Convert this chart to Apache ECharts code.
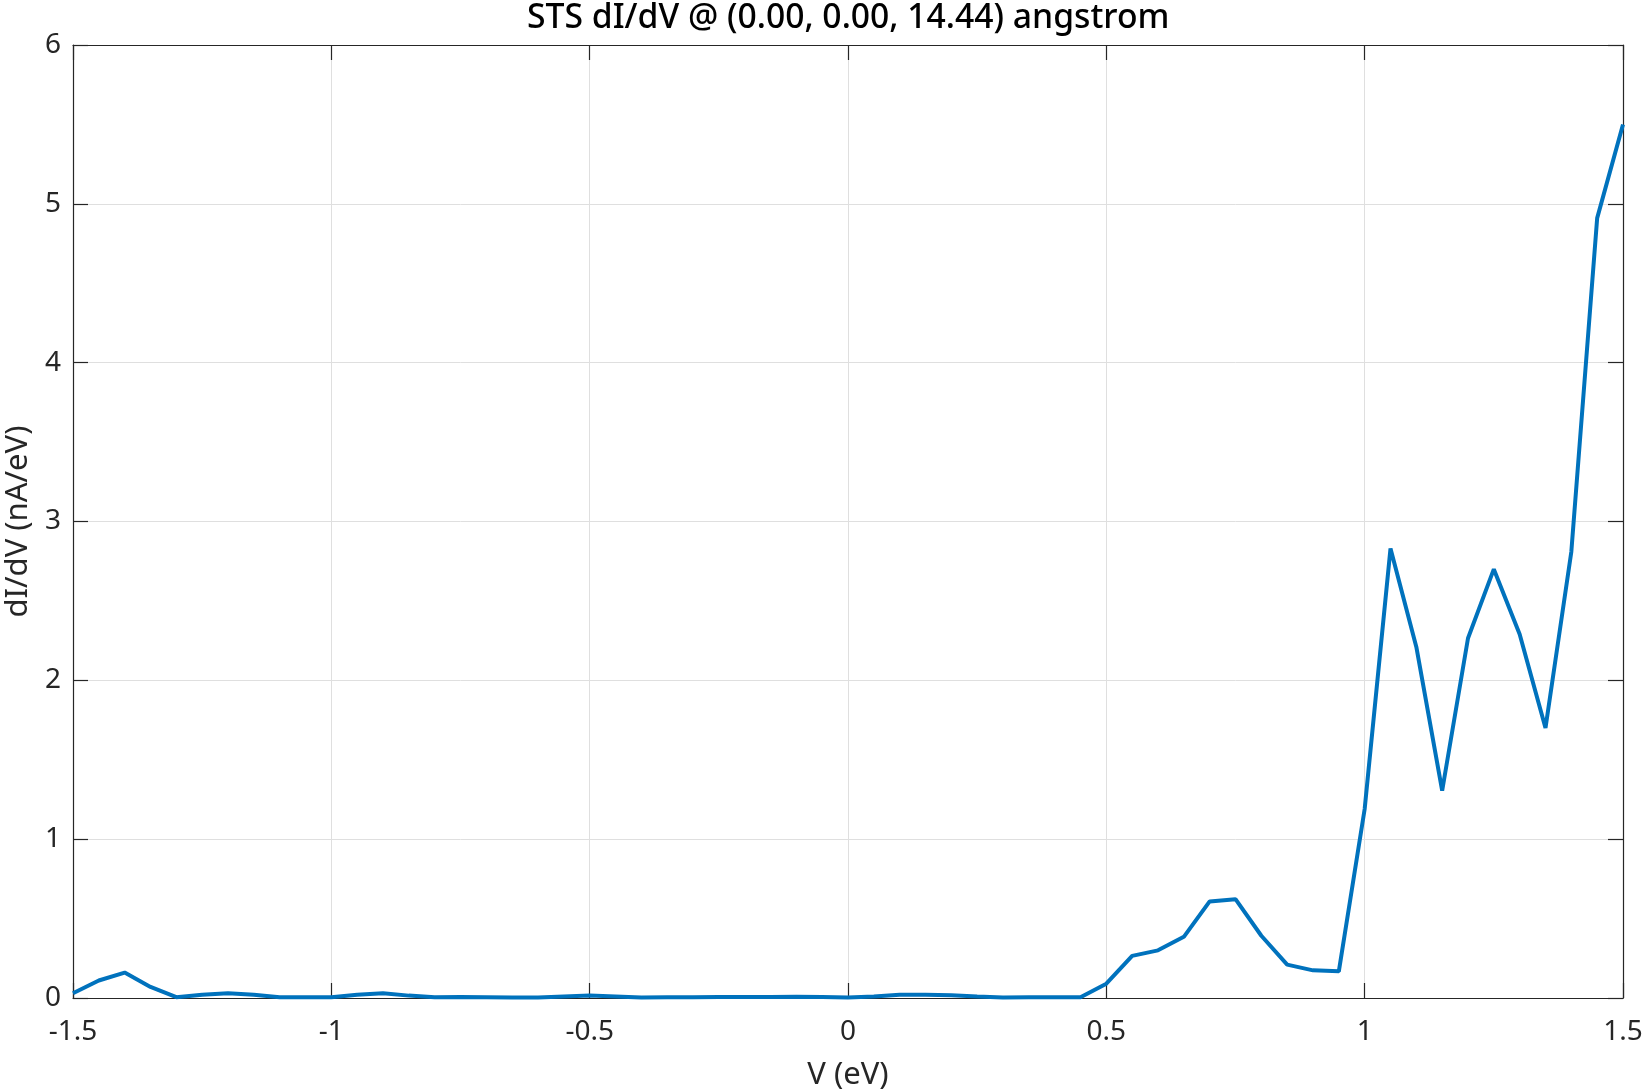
<!DOCTYPE html>
<html>
<head>
<meta charset="utf-8">
<script src="https://cdn.jsdelivr.net/npm/echarts@6/dist/echarts.min.js"></script>
<style>
  html, body { margin: 0; padding: 0; background: #fff; }
  #chart { width: 1643px; height: 1091px; }
</style>
</head>
<body>
<div id="chart"></div>
<script>
// bias voltages (eV), step 0.05
const bias = [
  -1.5, -1.45, -1.4, -1.35, -1.3, -1.25, -1.2, -1.15, -1.1, -1.05,
  -1.0, -0.95, -0.9, -0.85, -0.8, -0.75, -0.7, -0.65, -0.6, -0.55,
  -0.5, -0.45, -0.4, -0.35, -0.3, -0.25, -0.2, -0.15, -0.1, -0.05,
  0.0, 0.05, 0.1, 0.15, 0.2, 0.25, 0.3, 0.35, 0.4, 0.45,
  0.5, 0.55, 0.6, 0.65, 0.7, 0.75, 0.8, 0.85, 0.9, 0.95,
  1.0, 1.05, 1.1, 1.15, 1.2, 1.25, 1.3, 1.35, 1.4, 1.45, 1.5
]
// dI/dV (nA/eV)
const didv = [
  0.03, 0.11, 0.16, 0.07, 0.005, 0.02, 0.03, 0.02, 0.005, 0.005,
  0.005, 0.02, 0.03, 0.015, 0.005, 0.007, 0.005, 0.003, 0.003, 0.01,
  0.015, 0.01, 0.003, 0.004, 0.005, 0.006, 0.006, 0.007, 0.008, 0.006,
  0.003, 0.01, 0.02, 0.02, 0.018, 0.01, 0.003, 0.005, 0.005, 0.005,
  0.09, 0.265, 0.30, 0.385, 0.608, 0.622, 0.392, 0.21, 0.174, 0.168,
  1.19, 2.83, 2.21, 1.305, 2.265, 2.70, 2.29, 1.70, 2.81, 4.91, 5.50
]

const textColor = '#262626'
const font = 'Noto Sans'

const chart = echarts.init(document.getElementById('chart'))

const tickCommon = {
  show: true,
  inside: true,
  length: 15,
  lineStyle: { color: textColor, width: 1.2 },
}

chart.setOption({
  animation: false,
  title: {
    text: 'STS dI/dV @ (0.00, 0.00, 14.44) angstrom',
    left: 527, // centred over the plot area, not the page
    top: 1,
    padding: 0,
    textStyle: { fontFamily: font, fontSize: 33.7, fontWeight: 500, color: '#000' },
  },
  grid: { left: 73, right: 20, top: 45, bottom: 93, containLabel: false, outerBoundsMode: 'none' },
  xAxis: [
    {
      type: 'value',
      position: 'bottom',
      min: -1.5,
      max: 1.5,
      interval: 0.5,
      name: 'V (eV)',
      nameLocation: 'middle',
      nameGap: 62,
      nameTextStyle: { fontFamily: font, fontSize: 31, color: textColor },
      axisLine: { show: true, onZero: false, lineStyle: { color: textColor, width: 1.2 } },
      axisTick: tickCommon,
      axisLabel: { fontFamily: font, fontSize: 28, color: textColor, margin: 20, showMinLabel: true, showMaxLabel: true },
      splitLine: { show: true, lineStyle: { color: '#dfdfdf', width: 1 } },
    },
    {
      type: 'value',
      position: 'top',
      min: -1.5,
      max: 1.5,
      interval: 0.5,
      axisLine: { show: true, onZero: false, lineStyle: { color: textColor, width: 1.2 } },
      axisTick: tickCommon,
      axisLabel: { show: false },
      splitLine: { show: false },
    },
  ],
  yAxis: [
    {
      type: 'value',
      position: 'left',
      min: 0,
      max: 6,
      interval: 1,
      name: 'dI/dV (nA/eV)',
      nameLocation: 'middle',
      nameGap: 37,
      nameTextStyle: { fontFamily: font, fontSize: 31, color: textColor },
      axisLine: { show: true, onZero: false, lineStyle: { color: textColor, width: 1.2 } },
      axisTick: tickCommon,
      axisLabel: { fontFamily: font, fontSize: 28, color: textColor, margin: 12 },
      splitLine: { show: true, lineStyle: { color: '#dfdfdf', width: 1 } },
    },
    {
      type: 'value',
      position: 'right',
      min: 0,
      max: 6,
      interval: 1,
      axisLine: { show: true, onZero: false, lineStyle: { color: textColor, width: 1.2 } },
      axisTick: tickCommon,
      axisLabel: { show: false },
      splitLine: { show: false },
    },
  ],
  series: [
    {
      type: 'line',
      data: bias.map((v, i) => [v, didv[i]]),
      showSymbol: false,
      lineStyle: { color: '#0072BD', width: 4 },
      clip: true,
    },
  ],
})
</script>
</body>
</html>
